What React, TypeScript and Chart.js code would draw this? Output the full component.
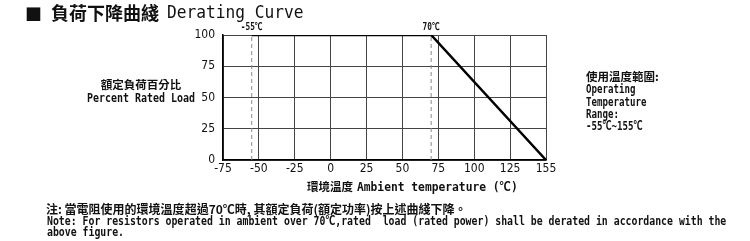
import React, { useEffect, useRef } from "react";
import { Chart, registerables } from "chart.js";

Chart.register(...registerables);

// ---- data ----
const tickTemps = [-75, -50, -25, 0, 25, 50, 75, 100, 125, 155];
const loadTicks = [0, 25, 50, 75, 100];
const curveTemps = [-55, 70, 155];
const curveLoads = [100, 100, 0];
const markerTemps = [-55, 70];
const markerLabels = ["-55℃", "70℃"];

// map temperature onto the evenly spaced tick grid of the drawing
function toAxis(t: number): number {
  for (let i = 0; i < tickTemps.length - 1; i++) {
    const a = tickTemps[i];
    const b = tickTemps[i + 1];
    if (t <= b || i === tickTemps.length - 2) return i + (t - a) / (b - a);
  }
  return 0;
}

const MONO = "'DejaVu Sans Mono', 'Noto Sans CJK TC', monospace";
const CJK = "'Noto Sans CJK TC', 'Noto Sans CJK SC', sans-serif";
const TICKFONT = "'DejaVu Sans Condensed', 'DejaVu Sans', sans-serif";

type TxtProps = {
  x: number;
  y: number;
  size: number;
  sx?: number;
  font?: string;
  weight?: string | number;
  center?: boolean;
  children: React.ReactNode;
};

function Txt({ x, y, size, sx = 1, font = MONO, weight = "normal", center = false, children }: TxtProps) {
  return (
    <div
      style={{
        position: "absolute",
        left: x,
        top: y - size / 2,
        fontSize: size,
        lineHeight: `${size}px`,
        fontFamily: font,
        fontWeight: weight as any,
        color: "#111",
        whiteSpace: "pre",
        transformOrigin: "0 0",
        transform: center ? `scaleX(${sx}) translateX(-50%)` : `scaleX(${sx})`,
      }}
    >
      {children}
    </div>
  );
}

const markerLabelPlugin = {
  id: "markerLabels",
  afterDraw(chart: any) {
    const ctx = chart.ctx;
    const xs = chart.scales.x;
    const ys = chart.scales.y;
    ctx.save();
    ctx.fillStyle = "#111";
    ctx.font = `bold 10px ${MONO}`;
    ctx.textAlign = "center";
    ctx.textBaseline = "middle";
    markerTemps.forEach((t, i) => {
      const px = xs.getPixelForValue(toAxis(t));
      const py = ys.getPixelForValue(100) - 8;
      ctx.save();
      ctx.translate(px, py);
      ctx.scale(0.78, 1);
      ctx.fillText(markerLabels[i], 0, 0);
      ctx.restore();
    });
    ctx.restore();
  },
};

export default function App() {
  const ref = useRef<HTMLCanvasElement>(null);

  useEffect(() => {
    document.body.style.margin = "0";
    const canvas = ref.current!;
    const curve = curveTemps.map((t, i) => ({ x: toAxis(t), y: curveLoads[i] }));
    const markers = markerTemps.map((t) => ({
      type: "line" as const,
      data: [
        { x: toAxis(t), y: loadTicks[0] },
        { x: toAxis(t), y: loadTicks[loadTicks.length - 1] },
      ],
      borderColor: "#888",
      borderWidth: 1,
      borderDash: [4, 3],
      pointRadius: 0,
      order: 2,
    }));
    const chart = new Chart(canvas, {
      type: "line",
      data: {
        datasets: [
          {
            data: curve,
            borderColor: "#000",
            borderWidth: 2.5,
            pointRadius: 0,
            order: 0,
          },
          ...markers,
        ] as any,
      },
      options: {
        animation: false,
        responsive: false,
        devicePixelRatio: 1,
        layout: { padding: { left: 183, right: 204, top: 35, bottom: 59 } },
        plugins: { legend: { display: false }, tooltip: { enabled: false } },
        scales: {
          x: {
            type: "linear",
            min: 0,
            max: tickTemps.length - 1,
            afterBuildTicks: (s: any) => {
              s.ticks = tickTemps.map((_, i) => ({ value: i }));
            },
            afterFit: (s: any) => {
              s.height = 22;
              s.paddingLeft = 0;
              s.paddingRight = 0;
            },
            ticks: {
              callback: (v: any) => String(tickTemps[Math.round(Number(v))]),
              font: { family: TICKFONT, size: 12 },
              color: "#111",
              padding: 2,
              maxRotation: 0,
              autoSkip: false,
            },
            grid: { color: "#444", lineWidth: 1, drawTicks: false },
            border: { color: "#000", width: 1.5 },
          },
          y: {
            type: "linear",
            min: loadTicks[0],
            max: loadTicks[loadTicks.length - 1],
            afterBuildTicks: (s: any) => {
              s.ticks = loadTicks.map((v) => ({ value: v }));
            },
            afterFit: (s: any) => {
              s.width = 40;
              s.paddingTop = 0;
              s.paddingBottom = 0;
            },
            ticks: {
              font: { family: TICKFONT, size: 12 },
              color: "#111",
              padding: 8,
            },
            grid: { color: "#444", lineWidth: 1, drawTicks: false },
            border: { color: "#000", width: 1.5 },
          },
        },
      },
      plugins: [markerLabelPlugin],
    });
    return () => chart.destroy();
  }, []);

  return (
    <div
      style={{
        position: "absolute",
        left: 0,
        top: 0,
        width: 750,
        height: 241,
        overflow: "hidden",
        background: "#fff",
      }}
    >
      <canvas ref={ref} width={750} height={241} style={{ position: "absolute", left: 0, top: 0 }} />
      <Txt x={25} y={13} size={17} font={CJK}>■</Txt>
      <Txt x={51} y={12} size={18} font={CJK} weight="bold">負荷下降曲綫</Txt>
      <Txt x={167} y={12} size={18} sx={0.9}>Derating Curve</Txt>

      <Txt x={141} y={85} size={11.5} font={CJK} weight="bold" center>額定負荷百分比</Txt>
      <Txt x={141} y={98} size={12} sx={0.83} weight="bold" center>Percent Rated Load</Txt>

      <Txt x={586} y={76.5} size={11.5} font={CJK} weight="bold">使用溫度範圍:</Txt>
      <Txt x={586} y={89} size={12} sx={0.76} weight="bold">Operating</Txt>
      <Txt x={586} y={101.5} size={12} sx={0.76} weight="bold">Temperature</Txt>
      <Txt x={586} y={113.5} size={12} sx={0.76} weight="bold">Range:</Txt>
      <Txt x={586} y={126} size={12} sx={0.76} weight="bold">-55℃~155℃</Txt>

      <Txt x={307} y={187} size={11.5} font={CJK} weight="bold">環境溫度</Txt>
      <Txt x={357} y={187} size={12} sx={0.94} weight="bold">Ambient temperature (℃)</Txt>

      <Txt x={46} y={209} size={12} font={CJK} weight="bold">注: 當電阻使用的環境溫度超過70℃時, 其額定負荷(額定功率)按上述曲綫下降。</Txt>
      <Txt x={47} y={221} size={12} sx={0.82} weight="bold">Note: For resistors operated in ambient over 70℃,rated  load (rated power) shall be derated in accordance with the</Txt>
      <Txt x={47} y={232} size={12} sx={0.82} weight="bold">above figure.</Txt>
    </div>
  );
}
